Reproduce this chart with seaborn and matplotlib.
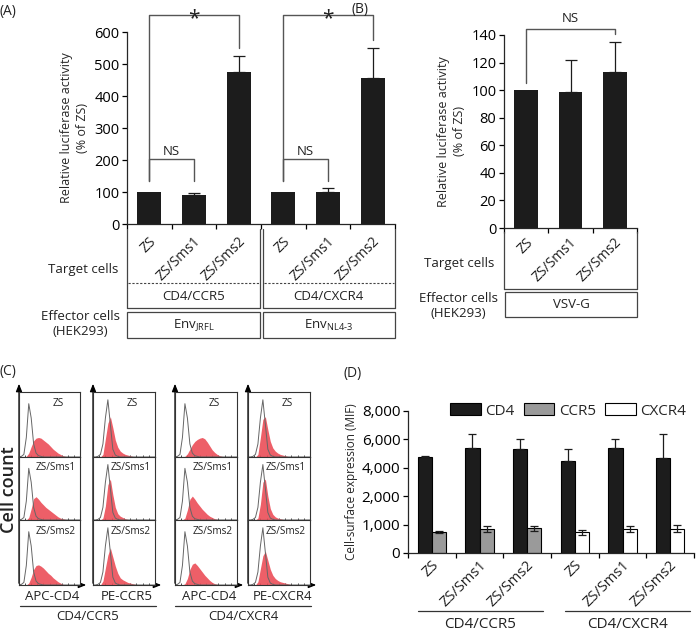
import numpy as np
import pandas as pd
import matplotlib.pyplot as plt
import seaborn as sns
from matplotlib.patches import Patch, Rectangle

# ---------------- data ----------------
# (A) cell-cell fusion, Env
a_labels = ["ZS", "ZS/Sms1", "ZS/Sms2", "ZS", "ZS/Sms1", "ZS/Sms2"]
a_values = [100, 90, 474, 100, 101, 456]
a_errors = [0, 8, 50, 0, 13, 95]
a_targets = ["CD4/CCR5", "CD4/CXCR4"]
a_effectors = [r"Env$_{\mathregular{JRFL}}$", r"Env$_{\mathregular{NL4\text{-}3}}$"]

# (B) VSV-G
b_labels = ["ZS", "ZS/Sms1", "ZS/Sms2"]
b_values = [100, 99, 113]
b_errors = [0, 23, 22]

# (C) flow histograms (fraction of panel height on a common bin grid)
hist_x = [0.00, 0.04, 0.08, 0.12, 0.16, 0.20, 0.24, 0.28, 0.32, 0.36, 0.40, 0.44, 0.48,
          0.52, 0.56, 0.60, 0.64, 0.68, 0.72, 0.76, 0.80, 0.84, 0.88, 0.92, 0.96, 1.00]
ctrl_apc = [0, 0.01, 0.04, 0.30, 0.82, 0.60, 0.20, 0.06, 0.02, 0.01]
ctrl_pe = [0, 0, 0.01, 0.04, 0.20, 0.60, 0.88, 0.50, 0.12, 0.03, 0.01]
ccr5_apc_zs = [0, 0, 0, 0.01, 0.06, 0.16, 0.25, 0.29, 0.30, 0.29, 0.26, 0.23, 0.20, 0.16, 0.12, 0.09, 0.06, 0.04, 0.02, 0.01]
ccr5_apc_s1 = [0, 0, 0, 0, 0.04, 0.18, 0.34, 0.37, 0.33, 0.28, 0.24, 0.20, 0.17, 0.14, 0.11, 0.08, 0.05, 0.03, 0.02, 0.01]
ccr5_apc_s2 = [0, 0, 0, 0, 0.03, 0.12, 0.24, 0.30, 0.31, 0.29, 0.26, 0.22, 0.18, 0.15, 0.11, 0.08, 0.05, 0.03, 0.01]
ccr5_pe_zs = [0, 0, 0, 0, 0.04, 0.28, 0.52, 0.62, 0.45, 0.26, 0.15, 0.09, 0.06, 0.04, 0.03, 0.02, 0.01]
ccr5_pe_s1 = [0, 0, 0, 0, 0.03, 0.22, 0.56, 0.65, 0.40, 0.20, 0.10, 0.06, 0.04, 0.02, 0.01]
ccr5_pe_s2 = [0, 0, 0, 0, 0.06, 0.26, 0.46, 0.57, 0.43, 0.29, 0.18, 0.11, 0.08, 0.06, 0.04, 0.03, 0.02, 0.01]
cxcr4_apc_zs = [0, 0, 0, 0, 0.01, 0.05, 0.12, 0.19, 0.24, 0.27, 0.29, 0.30, 0.28, 0.23, 0.17, 0.11, 0.07, 0.04, 0.02, 0.01]
cxcr4_apc_s1 = [0, 0, 0, 0, 0.03, 0.16, 0.33, 0.38, 0.33, 0.27, 0.22, 0.17, 0.13, 0.09, 0.06, 0.04, 0.02, 0.01]
cxcr4_apc_s2 = [0, 0, 0, 0, 0.02, 0.10, 0.24, 0.32, 0.34, 0.30, 0.25, 0.20, 0.15, 0.11, 0.07, 0.04, 0.02, 0.01]
cxcr4_pe_zs = [0, 0, 0, 0, 0.04, 0.30, 0.58, 0.62, 0.42, 0.24, 0.14, 0.09, 0.06, 0.04, 0.03, 0.02, 0.01]
cxcr4_pe_s1 = [0, 0, 0, 0, 0.03, 0.25, 0.60, 0.65, 0.38, 0.18, 0.09, 0.05, 0.03, 0.02, 0.01]
cxcr4_pe_s2 = [0, 0, 0, 0, 0.05, 0.25, 0.45, 0.52, 0.38, 0.24, 0.15, 0.10, 0.07, 0.05, 0.04, 0.03, 0.02, 0.01]
c_rows = ["ZS", "ZS/Sms1", "ZS/Sms2"]
c_channels = ["APC-CD4", "PE-CCR5", "APC-CD4", "PE-CXCR4"]

# (D) surface expression (MIF)
d_labels = ["ZS", "ZS/Sms1", "ZS/Sms2", "ZS", "ZS/Sms1", "ZS/Sms2"]
d_cd4 = [4740, 5420, 5300, 4460, 5420, 4670]
d_cd4_err = [110, 960, 700, 840, 630, 1690]
d_cor = [730, 835, 870, 730, 845, 860]
d_cor_err = [40, 110, 90, 80, 90, 120]
d_cor_names = ["CCR5", "CCR5", "CCR5", "CXCR4", "CXCR4", "CXCR4"]
d_yticks = [0, 1000, 2000, 4000, 6000, 8000]

# ---------------- style ----------------
sns.set_style("ticks")
plt.rcParams["font.family"] = ["Open Sans", "DejaVu Sans"]
plt.rcParams["mathtext.fontset"] = "custom"
plt.rcParams["mathtext.rm"] = "Open Sans"
plt.rcParams["axes.linewidth"] = 0.9
plt.rcParams["xtick.major.width"] = 0.9
plt.rcParams["ytick.major.width"] = 0.9

W, H = 700, 630
bar_black = "#1c1c1c"
brk = "#555555"
txt = "#222222"
line_c = "#444444"
red = "#ec4d57"
FS = 9.5

fig = plt.figure(figsize=(7, 6.3), dpi=100)


def px(x0, y0, x1, y1):
    return [x0 / W, 1 - y1 / H, (x1 - x0) / W, (y1 - y0) / H]


def curve(vals):
    return vals + [0] * (len(hist_x) - len(vals))


def style_bar_axis(ax, n, fs):
    sns.despine(ax=ax)
    ax.set_xlim(-0.5, n - 0.5)
    ax.set_xticks(np.arange(n + 1) - 0.5)
    ax.set_xticklabels([])
    ax.set_xlabel("")
    ax.tick_params(axis="both", length=3.5, labelsize=fs, colors="black", pad=2)


def rot_labels(ax, labels, dy, fs=10):
    for i, lab in enumerate(labels):
        ax.text(i + 0.1, dy, lab, transform=ax.get_xaxis_transform(), rotation=45,
                ha="right", va="center", rotation_mode="anchor", fontsize=fs, color=txt)


# ---------------- (A) ----------------
ax_a = fig.add_axes(px(127, 32, 395, 224))
df_a = pd.DataFrame({"pos": range(len(a_values)), "val": a_values})
sns.barplot(data=df_a, x="pos", y="val", color=bar_black, saturation=1, width=0.54,
            errorbar=None, linewidth=0, ax=ax_a)
idx = [i for i, e in enumerate(a_errors) if e > 0]
ax_a.errorbar(idx, [a_values[i] for i in idx], yerr=[[0] * len(idx), [a_errors[i] for i in idx]],
              fmt="none", ecolor=bar_black, elinewidth=0.9, capsize=4, capthick=0.9)
style_bar_axis(ax_a, 6, 10.5)
ax_a.set_ylim(0, 600)
ax_a.set_yticks(range(0, 601, 100))
ax_a.set_ylabel("Relative luciferase activity\n(% of ZS)", fontsize=9, labelpad=4, linespacing=1.3)
rot_labels(ax_a, a_labels, -0.08)

for g in range(2):
    i0 = 3 * g
    top_r = a_values[i0 + 2] + a_errors[i0 + 2]
    ax_a.plot([i0, i0, i0 + 2, i0 + 2], [a_values[i0] + 34, 653, 653, top_r + 25],
              color=brk, lw=1.0, clip_on=False)
    ax_a.text(i0 + 1, 640, "*", ha="center", va="center", fontsize=15, color=txt, clip_on=False)
    ax_a.plot([i0, i0, i0 + 1, i0 + 1], [134, 203, 203, 134], color=brk, lw=1.0, clip_on=False)
    ax_a.text(i0 + 0.5, 207, "NS", ha="center", va="bottom", fontsize=FS, color=txt)

# ---------------- (B) ----------------
ax_b = fig.add_axes(px(504, 35, 637, 228))
df_b = pd.DataFrame({"pos": range(len(b_values)), "val": b_values})
sns.barplot(data=df_b, x="pos", y="val", color=bar_black, saturation=1, width=0.54,
            errorbar=None, linewidth=0, ax=ax_b)
idx = [i for i, e in enumerate(b_errors) if e > 0]
ax_b.errorbar(idx, [b_values[i] for i in idx], yerr=[[0] * len(idx), [b_errors[i] for i in idx]],
              fmt="none", ecolor=bar_black, elinewidth=0.9, capsize=4, capthick=0.9)
style_bar_axis(ax_b, 3, 10.5)
ax_b.set_ylim(0, 140)
ax_b.set_yticks(range(0, 141, 20))
ax_b.set_ylabel("Relative luciferase activity\n(% of ZS)", fontsize=9, labelpad=4, linespacing=1.3)
rot_labels(ax_b, b_labels, -0.065)
ax_b.plot([0, 0, 2, 2], [b_values[0] + 5, 144, 144, b_values[2] + b_errors[2] + 6],
          color=brk, lw=1.0, clip_on=False)
ax_b.text(1, 147, "NS", ha="center", va="bottom", fontsize=FS, color=txt)

# ---------------- overlay for tables / labels ----------------
ov = fig.add_axes([0, 0, 1, 1])
ov.set_xlim(0, W)
ov.set_ylim(H, 0)
ov.axis("off")
ov.patch.set_alpha(0)


def seg(x0, y0, x1, y1, **kw):
    kw.setdefault("color", line_c)
    kw.setdefault("lw", 0.9)
    ov.plot([x0, x1], [y0, y1], **kw)


# table under A
for k, (x0, x1) in enumerate([(127, 260), (262.5, 395)]):
    seg(x0, 229, x0, 308)
    seg(x1, 229, x1, 308)
    seg(x0, 308, x1, 308)
    seg(x0 + 1, 283, x1 - 1, 283, lw=0.8, ls=(0, (2, 1.5)))
    ov.text((x0 + x1) / 2, 296, a_targets[k], ha="center", va="center", fontsize=FS, color=txt)
    ov.add_patch(Rectangle((x0, 312), x1 - x0, 26, fill=False, ec=line_c, lw=0.9))
    ov.text((x0 + x1) / 2, 325, a_effectors[k], ha="center", va="center", fontsize=FS, color=txt)
ov.text(118, 270, "Target cells", ha="right", va="center", fontsize=FS, color=txt)
ov.text(120, 324, "Effector cells\n(HEK293)", ha="right", va="center", fontsize=FS,
        color=txt, multialignment="center", linespacing=1.2)

# table under B
seg(504, 232, 504, 289)
seg(637, 232, 637, 289)
seg(504, 289, 637, 289)
ov.add_patch(Rectangle((505, 292), 132, 25, fill=False, ec=line_c, lw=0.9))
ov.text(571, 304, "VSV-G", ha="center", va="center", fontsize=FS, color=txt)
ov.text(494, 263, "Target cells", ha="right", va="center", fontsize=FS, color=txt)
ov.text(498, 306, "Effector cells\n(HEK293)", ha="right", va="center", fontsize=FS,
        color=txt, multialignment="center", linespacing=1.2)

# ---------------- (C) ----------------
c_cols = [(19, 80), (93, 155), (175, 237), (248, 310)]
c_rowy = [(392, 457), (457, 520), (520, 585)]
c_ctrl = [ctrl_apc, ctrl_pe, ctrl_apc, ctrl_pe]
c_red = [[ccr5_apc_zs, ccr5_apc_s1, ccr5_apc_s2],
         [ccr5_pe_zs, ccr5_pe_s1, ccr5_pe_s2],
         [cxcr4_apc_zs, cxcr4_apc_s1, cxcr4_apc_s2],
         [cxcr4_pe_zs, cxcr4_pe_s1, cxcr4_pe_s2]]
for ci, (x0, x1) in enumerate(c_cols):
    for ri, (y0, y1) in enumerate(c_rowy):
        axh = fig.add_axes(px(x0, y0, x1, y1))
        axh.fill_between(hist_x, curve(c_red[ci][ri]), color=red, alpha=0.9, lw=0)
        sns.lineplot(x=hist_x, y=curve(c_ctrl[ci]), color="#666666", lw=0.7, ax=axh)
        axh.set_xlim(0, 1)
        axh.set_ylim(0, 1)
        axh.set_xticks([0.1, 0.2, 0.3, 0.4, 0.5, 0.6, 0.7, 0.8, 0.9])
        axh.set_yticks([])
        axh.tick_params(axis="x", direction="in", length=1.8, width=0.6, labelbottom=False)
        for s in axh.spines.values():
            s.set_linewidth(0.8)
            s.set_color("#333333")
        if ri == 0:
            axh.text(0.64, 0.83, c_rows[ri], ha="center", va="center", fontsize=7.2,
                     color=txt, transform=axh.transAxes)
        else:
            axh.text(0.93, 0.83, c_rows[ri], ha="right", va="center", fontsize=7.2,
                     color=txt, transform=axh.transAxes)
    # arrows
    ov.annotate("", xy=(x0, 381), xytext=(x0, 586),
                arrowprops=dict(arrowstyle="-|>,head_width=0.18,head_length=0.45", lw=0.9, color="black"))
    ov.annotate("", xy=(x1 + 9, 585), xytext=(x0 - 1, 585),
                arrowprops=dict(arrowstyle="-|>,head_width=0.18,head_length=0.45", lw=0.9, color="black"))
    ov.text((x0 + x1) / 2 + 3, 597, c_channels[ci], ha="center", va="center", fontsize=FS, color=txt)
seg(20, 606, 156, 606, color="#333333")
seg(175, 606, 311, 606, color="#333333")
ov.text(88, 617, "CD4/CCR5", ha="center", va="center", fontsize=FS, color=txt)
ov.text(243, 617, "CD4/CXCR4", ha="center", va="center", fontsize=FS, color=txt)
ov.text(9, 490, "Cell count", ha="center", va="center", rotation=90, fontsize=13,
        fontweight="semibold", color=txt)

# ---------------- (D) ----------------
def fwd(v):
    v = np.asarray(v, dtype=float)
    return np.where(v <= 2000, v / 1000, 2 + (v - 2000) / 2000)


def inv(u):
    u = np.asarray(u, dtype=float)
    return np.where(u <= 2, u * 1000, 2000 + (u - 2) * 2000)


ax_d = fig.add_axes(px(408, 411, 694, 553))
ax_d.set_yscale("function", functions=(fwd, inv))
df_d = pd.DataFrame({
    "pos": list(range(6)) * 2,
    "marker": ["CD4"] * 6 + ["co"] * 6,
    "val": d_cd4 + d_cor,
})
sns.barplot(data=df_d, x="pos", y="val", hue="marker", palette=[bar_black, "#9a9a9a"],
            saturation=1, width=0.6, errorbar=None, linewidth=0.8, edgecolor="black",
            legend=False, ax=ax_d)
bars = [p for p in ax_d.patches if isinstance(p, Rectangle) and p.get_width() < 1]
cd4_bars, cor_bars = bars[:6], bars[6:12]
for p, name in zip(cor_bars, d_cor_names):
    if name == "CXCR4":
        p.set_facecolor("white")
xc = [p.get_x() + p.get_width() / 2 for p in cd4_bars]
ax_d.errorbar(xc, d_cd4, yerr=[[0] * 6, d_cd4_err], fmt="none", ecolor=bar_black,
              elinewidth=0.9, capsize=3, capthick=0.9)
xc = [p.get_x() + p.get_width() / 2 for p in cor_bars]
ax_d.errorbar(xc, d_cor, yerr=d_cor_err, fmt="none", ecolor=bar_black,
              elinewidth=0.9, capsize=3, capthick=0.9)
style_bar_axis(ax_d, 6, 11)
ax_d.set_ylim(0, 8000)
ax_d.set_yticks(d_yticks)
ax_d.set_yticklabels([f"{v:,}" for v in d_yticks])
ax_d.yaxis.set_minor_locator(plt.NullLocator())
ax_d.set_ylabel("Cell-surface expression (MIF)", fontsize=8.5, labelpad=3)
rot_labels(ax_d, d_labels, -0.07, fs=10.5)
handles = [Patch(facecolor=bar_black, edgecolor="black", lw=0.8, label="CD4"),
           Patch(facecolor="#9a9a9a", edgecolor="black", lw=0.8, label="CCR5"),
           Patch(facecolor="white", edgecolor="black", lw=0.8, label="CXCR4")]
ax_d.legend(handles=handles, ncol=3, frameon=False, loc="center", bbox_to_anchor=(0.56, 1.0),
            fontsize=11, handlelength=2.0, handleheight=0.8, handletextpad=0.3, columnspacing=0.6)
seg(418, 611, 543, 611, color="#333333")
seg(565, 611, 690, 611, color="#333333")
ov.text(480, 624, "CD4/CCR5", ha="center", va="center", fontsize=11, color=txt)
ov.text(628, 624, "CD4/CXCR4", ha="center", va="center", fontsize=11, color=txt)

# panel letters
ov.text(0, 11, "(A)", ha="left", va="center", fontsize=10, color=txt)
ov.text(352, 9, "(B)", ha="left", va="center", fontsize=10, color=txt)
ov.text(0, 371, "(C)", ha="left", va="center", fontsize=10, color=txt)
ov.text(344, 374, "(D)", ha="left", va="center", fontsize=10, color=txt)

fig.savefig("out.png", dpi=100)
